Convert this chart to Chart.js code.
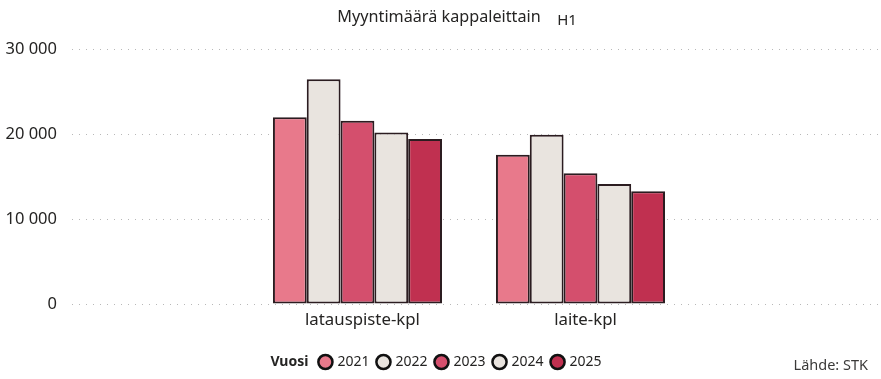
<!DOCTYPE html>
<html lang="fi">
<head>
<meta charset="utf-8">
<title>Myyntimäärä kappaleittain</title>
<script src="https://cdn.jsdelivr.net/npm/chart.js@4.4.1/dist/chart.umd.min.js"></script>
<style>
    html, body { margin: 0; padding: 0; background: #ffffff; }
    #wrap { width: 881px; height: 379px; }
</style>
</head>
<body>
<div id="wrap"><canvas id="salesChart" width="881" height="379"></canvas></div>
<script>
// ──────────────────────────────────────
// Data
// ──────────────────────────────────────

const categories = ['latauspiste-kpl', 'laite-kpl'];
const years = ['2021', '2022', '2023', '2024', '2025'];

const sales2021 = [22000, 17600];
const sales2022 = [26500, 19950];
const sales2023 = [21600, 15400];
const sales2024 = [20200, 14150];
const sales2025 = [19450, 13300];

const yTicks = [0, 10000, 20000, 30000];

// ──────────────────────────────────────
// Style
// ──────────────────────────────────────

const FONT = "'Noto Sans', 'Open Sans', sans-serif";
const TEXT = '#252423';
const EDGE = '#2b1c20';
const TITLE_SIZE = 16.2;

const COLORS = ['#E8798B', '#E9E4DF', '#D44F6D', '#E9E4DF', '#C03050'];
const LEGEND_SHIFT = 22;

const seriesValues = [sales2021, sales2022, sales2023, sales2024, sales2025];

const datasets = years.map((year, i) => ({
    label: year,
    data: seriesValues[i].map((v, c) => ({ x: c, y: v })),
    backgroundColor: COLORS[i],
    borderColor: EDGE,
    borderWidth: 2,
    borderSkipped: false,
    categoryPercentage: 0.758,
    barPercentage: 1,
}));

function formatThousands(v) {
    return String(v).replace(/\B(?=(\d{3})+(?!\d))/g, ' ');
}

// extra texts: H1 tag, legend header, source
const extrasPlugin = {
    id: 'extras',
    afterLayout(chart) {
        chart.legend.left += LEGEND_SHIFT;
        chart.legend.right += LEGEND_SHIFT;
    },
    afterDraw(chart) {
        const ctx = chart.ctx;
        ctx.save();
        ctx.fillStyle = TEXT;
        ctx.textBaseline = 'middle';

        // H1 beside the title
        const tb = chart.titleBlock;
        ctx.font = `${TITLE_SIZE}px ${FONT}`;
        const tw = ctx.measureText(chart.options.plugins.title.text).width;
        ctx.font = `15px ${FONT}`;
        ctx.textAlign = 'left';
        ctx.fillText('H1', chart.width / 2 + tw / 2 + 15, tb.top + 8 + 13);

        // legend header
        const hb = chart.legend.legendHitBoxes[0];
        const midY = hb.top + hb.height / 2;
        ctx.font = `bold 14px ${FONT}`;
        ctx.textAlign = 'right';
        ctx.fillText('Vuosi', hb.left - 12, midY);

        // source
        ctx.font = `14.5px ${FONT}`;
        ctx.fillStyle = '#3b3a39';
        ctx.fillText('Lähde: STK', chart.width - 13, midY + 4);
        ctx.restore();
    }
};

const ctx = document.getElementById('salesChart');

new Chart(ctx, {
    type: 'bar',
    data: { datasets },
    plugins: [extrasPlugin],
    options: {
        responsive: false,
        animation: false,
        layout: { padding: { top: 0, right: 3, bottom: 0, left: 0 } },
        plugins: {
            title: {
                display: true,
                text: 'Myyntimäärä kappaleittain',
                color: TEXT,
                font: { size: TITLE_SIZE, weight: 'normal', family: FONT },
                padding: { top: 8, bottom: 22 },
            },
            legend: {
                position: 'bottom',
                labels: {
                    usePointStyle: true,
                    pointStyle: 'circle',
                    boxWidth: 10,
                    boxHeight: 10,
                    padding: 9,
                    color: TEXT,
                    font: { size: 14, family: FONT },
                    generateLabels(chart) {
                        const items = Chart.defaults.plugins.legend.labels.generateLabels(chart);
                        items.forEach(it => { it.lineWidth = 2.5; it.strokeStyle = '#111'; });
                        return items;
                    }
                }
            },
            tooltip: { enabled: false },
        },
        scales: {
            x: {
                type: 'linear',
                offset: false,
                min: -1.28,
                max: 2.334,
                grid: { display: false },
                border: { display: false },
                afterBuildTicks(axis) {
                    axis.ticks = categories.map((c, i) => ({ value: i }));
                },
                afterFit(axis) { axis.height = 42; },
                ticks: {
                    autoSkip: false,
                    maxRotation: 0,
                    labelOffset: 5,
                    padding: -2,
                    color: TEXT,
                    font: { size: 16.8, family: FONT },
                    callback: (v) => categories[v],
                }
            },
            y: {
                min: 0,
                max: 30000,
                afterFit(axis) { axis.width = 72; },
                afterBuildTicks(axis) {
                    axis.ticks = yTicks.map(v => ({ value: v }));
                },
                grid: {
                    color: 'rgba(0,0,0,0.28)',
                    lineWidth: 1,
                    drawTicks: false,
                },
                border: { display: false, dash: [1, 6] },
                ticks: {
                    padding: 15,
                    color: TEXT,
                    font: { size: 16.5, family: FONT },
                    callback: (v) => formatThousands(v),
                }
            }
        }
    }
});
</script>
</body>
</html>
